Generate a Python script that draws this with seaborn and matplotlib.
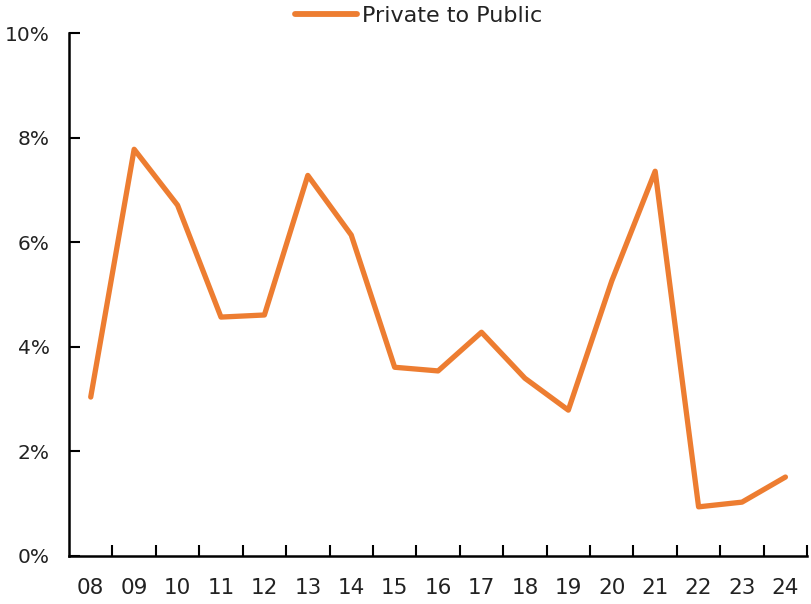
import matplotlib
matplotlib.use("Agg")
import matplotlib.pyplot as plt
from matplotlib.ticker import FixedLocator, PercentFormatter
import seaborn as sns
import pandas as pd

years = ["08", "09", "10", "11", "12", "13", "14", "15", "16",
         "17", "18", "19", "20", "21", "22", "23", "24"]
private_to_public = [3.04, 7.78, 6.71, 4.57, 4.61, 7.28, 6.14, 3.61, 3.54,
                     4.28, 3.40, 2.79, 5.26, 7.36, 0.94, 1.03, 1.51]
series_name = "Private to Public"
line_color = "#ED7D31"

df = pd.DataFrame({"year": years, "value": private_to_public, "series": series_name})

sns.set_style("white")
plt.rcParams["font.family"] = ["DejaVu Sans"]

fig = plt.figure(figsize=(8.12, 6.04), dpi=100)
ax = fig.add_axes([0.085, 0.0795, 0.909, 0.8655])

sns.lineplot(data=df, x="year", y="value", hue="series", palette=[line_color],
             linewidth=3.8, ax=ax, sort=False)

n = len(years)
ax.set_xlim(-0.5, n - 0.5)
ax.set_ylim(0, 10)
ax.set_yticks(range(0, 11, 2))
ax.yaxis.set_major_formatter(PercentFormatter(decimals=0))
ax.set_xticks(range(n))
ax.set_xticklabels(years)
ax.xaxis.set_minor_locator(FixedLocator([i + 0.5 for i in range(n)]))

ax.tick_params(axis="x", which="major", bottom=True, length=0, pad=16,
               labelsize=15.5, labelcolor="#222222")
ax.tick_params(axis="x", which="minor", bottom=True, direction="in",
               length=8, width=1.5, color="black")
ax.tick_params(axis="y", which="major", left=True, direction="in", length=8,
               width=1.5, labelsize=14.5, pad=14, color="black",
               labelcolor="#222222")

for side in ("top", "right"):
    ax.spines[side].set_visible(False)
for side in ("left", "bottom"):
    ax.spines[side].set_linewidth(1.8)
    ax.spines[side].set_color("black")

ax.set_xlabel("")
ax.set_ylabel("")
leg = ax.legend(loc="center", bbox_to_anchor=(0.4736, 1.033), frameon=False,
                fontsize=16, handlelength=2.8, handletextpad=0.2, borderaxespad=0,
                borderpad=0)
for t in leg.get_texts():
    t.set_color("#222222")
for h in leg.get_lines():
    h.set_solid_capstyle("round")
    h.set_linewidth(4.2)

fig.savefig("out.png", dpi=100)
